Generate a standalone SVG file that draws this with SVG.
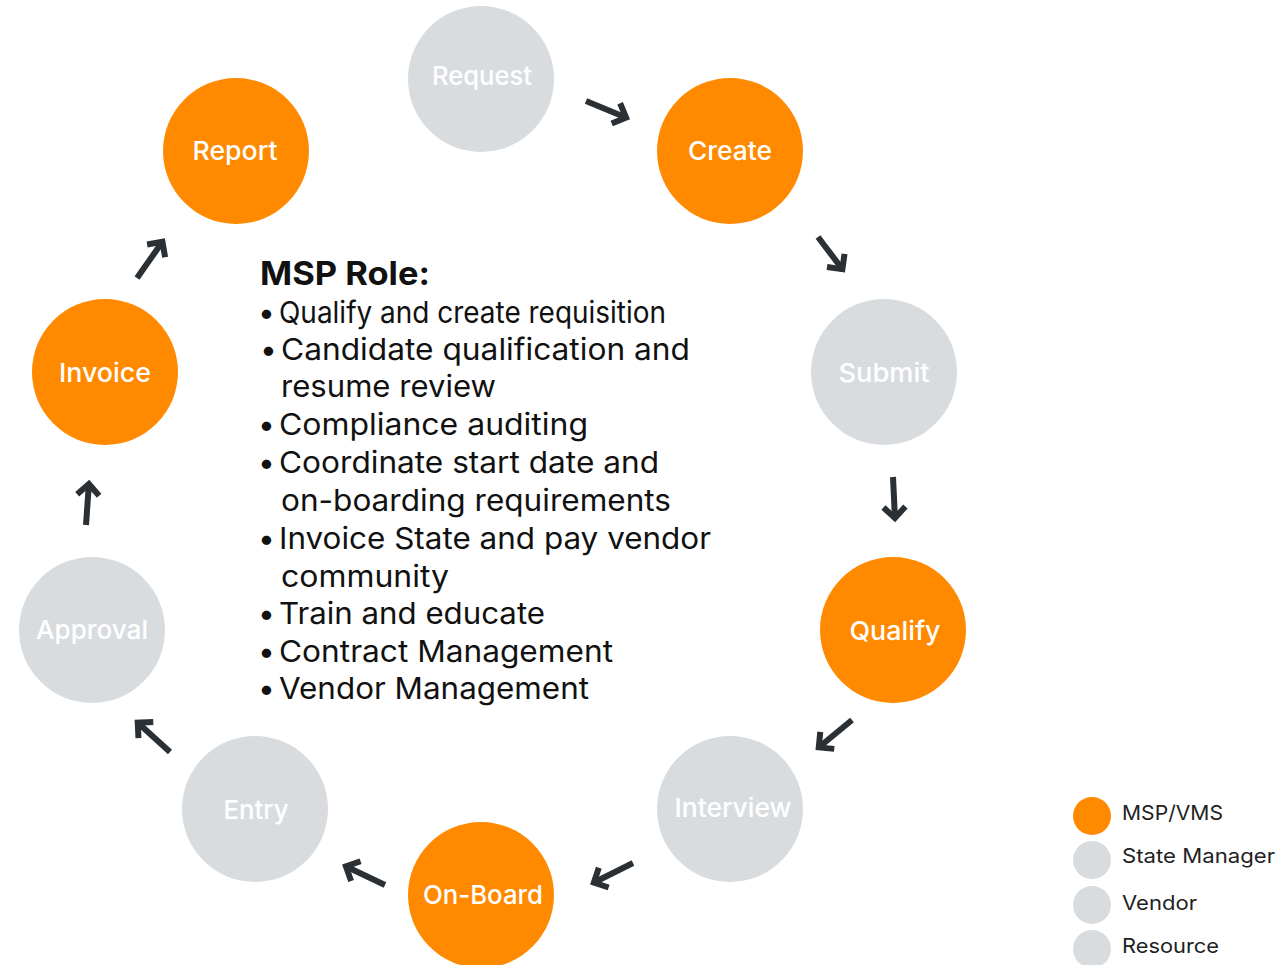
<svg xmlns="http://www.w3.org/2000/svg" width="1281" height="965" viewBox="0 0 1281 965">
<style>
.msp{fill:#FF8A00}
.gry{fill:#D9DCDF}
.lbl{font-family:Inter,"Liberation Sans",sans-serif;font-size:26px;font-weight:500;fill:#FFFFFF;text-anchor:middle}
.body{font-family:Inter,"Liberation Sans",sans-serif;font-size:30px;fill:#111111}
.head{font-family:Inter,"Liberation Sans",sans-serif;font-size:33px;font-weight:700;fill:#111111}
.leg{font-family:Inter,"Liberation Sans",sans-serif;font-size:20px;fill:#222222}
.arr{stroke:#2B3035;stroke-width:6;fill:none;marker-end:url(#ah)}
</style>
<defs>
<marker id="ah" markerUnits="userSpaceOnUse" viewBox="-20 -15 30 30" markerWidth="30" markerHeight="30" refX="1" refY="0" orient="auto">
<polyline points="-11,-11 0,0 -11,11" fill="none" stroke="#2B3035" stroke-width="6" stroke-linejoin="miter"/>
</marker>
</defs>
<rect width="1281" height="965" fill="#FFFFFF"/>
<g id="connectors">
<line class="arr" x1="586" y1="101" x2="627" y2="118"/>
<line class="arr" x1="818" y1="237" x2="843" y2="270"/>
<line class="arr" x1="893" y1="477" x2="895" y2="519"/>
<line class="arr" x1="852" y1="720" x2="818" y2="748"/>
<line class="arr" x1="633" y1="863" x2="593" y2="883"/>
<line class="arr" x1="385" y1="885" x2="345" y2="866"/>
<line class="arr" x1="170" y1="752" x2="137" y2="722"/>
<line class="arr" x1="86" y1="525" x2="89" y2="483"/>
<line class="arr" x1="137" y1="278" x2="163" y2="241"/>
</g>
<g id="node-request"><circle class="gry" cx="481" cy="79" r="73"/><text class="lbl" x="482" y="85" textLength="100" lengthAdjust="spacingAndGlyphs">Request</text></g>
<g id="node-create"><circle class="msp" cx="730" cy="151" r="73"/><text class="lbl" x="730" y="160" textLength="84" lengthAdjust="spacingAndGlyphs">Create</text></g>
<g id="node-submit"><circle class="gry" cx="884" cy="372" r="73"/><text class="lbl" x="884" y="382" textLength="91" lengthAdjust="spacingAndGlyphs">Submit</text></g>
<g id="node-qualify"><circle class="msp" cx="893" cy="630" r="73"/><text class="lbl" x="895" y="640" textLength="91" lengthAdjust="spacingAndGlyphs">Qualify</text></g>
<g id="node-interview"><circle class="gry" cx="730" cy="809" r="73"/><text class="lbl" x="733" y="817" textLength="117" lengthAdjust="spacingAndGlyphs">Interview</text></g>
<g id="node-onboard"><circle class="msp" cx="481" cy="895" r="73"/><text class="lbl" x="483" y="904" textLength="120" lengthAdjust="spacingAndGlyphs">On-Board</text></g>
<g id="node-entry"><circle class="gry" cx="255" cy="809" r="73"/><text class="lbl" x="256" y="819" textLength="65" lengthAdjust="spacingAndGlyphs">Entry</text></g>
<g id="node-approval"><circle class="gry" cx="92" cy="630" r="73"/><text class="lbl" x="92" y="639" textLength="112" lengthAdjust="spacingAndGlyphs">Approval</text></g>
<g id="node-invoice"><circle class="msp" cx="105" cy="372" r="73"/><text class="lbl" x="105" y="382" textLength="92" lengthAdjust="spacingAndGlyphs">Invoice</text></g>
<g id="node-report"><circle class="msp" cx="236" cy="151" r="73"/><text class="lbl" x="235" y="160" textLength="85" lengthAdjust="spacingAndGlyphs">Report</text></g>
<g id="msp-role">
<text class="head" x="260" y="285" textLength="170" lengthAdjust="spacingAndGlyphs">MSP Role:</text>
<text class="body" x="258" y="323" font-size="28">•</text>
<text class="body" x="279" y="323" font-size="28" textLength="387" lengthAdjust="spacingAndGlyphs">Qualify and create requisition</text>
<text class="body" x="260" y="360">•</text>
<text class="body" x="281" y="360" textLength="409" lengthAdjust="spacingAndGlyphs">Candidate qualification and</text>
<text class="body" x="281" y="397" textLength="215" lengthAdjust="spacingAndGlyphs">resume review</text>
<text class="body" x="258" y="435">•</text>
<text class="body" x="279" y="435" textLength="309" lengthAdjust="spacingAndGlyphs">Compliance auditing</text>
<text class="body" x="258" y="473">•</text>
<text class="body" x="279" y="473" textLength="380" lengthAdjust="spacingAndGlyphs">Coordinate start date and</text>
<text class="body" x="281" y="511" textLength="390" lengthAdjust="spacingAndGlyphs">on-boarding requirements</text>
<text class="body" x="258" y="549">•</text>
<text class="body" x="279" y="549" textLength="432" lengthAdjust="spacingAndGlyphs">Invoice State and pay vendor</text>
<text class="body" x="281" y="587" textLength="168" lengthAdjust="spacingAndGlyphs">community</text>
<text class="body" x="258" y="624">•</text>
<text class="body" x="279" y="624" textLength="266" lengthAdjust="spacingAndGlyphs">Train and educate</text>
<text class="body" x="258" y="662">•</text>
<text class="body" x="279" y="662" textLength="334" lengthAdjust="spacingAndGlyphs">Contract Management</text>
<text class="body" x="258" y="699">•</text>
<text class="body" x="279" y="699" textLength="310" lengthAdjust="spacingAndGlyphs">Vendor Management</text>
</g>
<g id="legend">
<circle class="msp" cx="1092" cy="816" r="19"/>
<text class="leg" x="1122" y="820" textLength="101" lengthAdjust="spacingAndGlyphs">MSP/VMS</text>
<circle class="gry" cx="1092" cy="860" r="19"/>
<text class="leg" x="1122" y="863" textLength="153" lengthAdjust="spacingAndGlyphs">State Manager</text>
<circle class="gry" cx="1092" cy="905" r="19"/>
<text class="leg" x="1122" y="910" textLength="75" lengthAdjust="spacingAndGlyphs">Vendor</text>
<circle class="gry" cx="1092" cy="949" r="19"/>
<text class="leg" x="1122" y="953" textLength="97" lengthAdjust="spacingAndGlyphs">Resource</text>
</g>
</svg>
